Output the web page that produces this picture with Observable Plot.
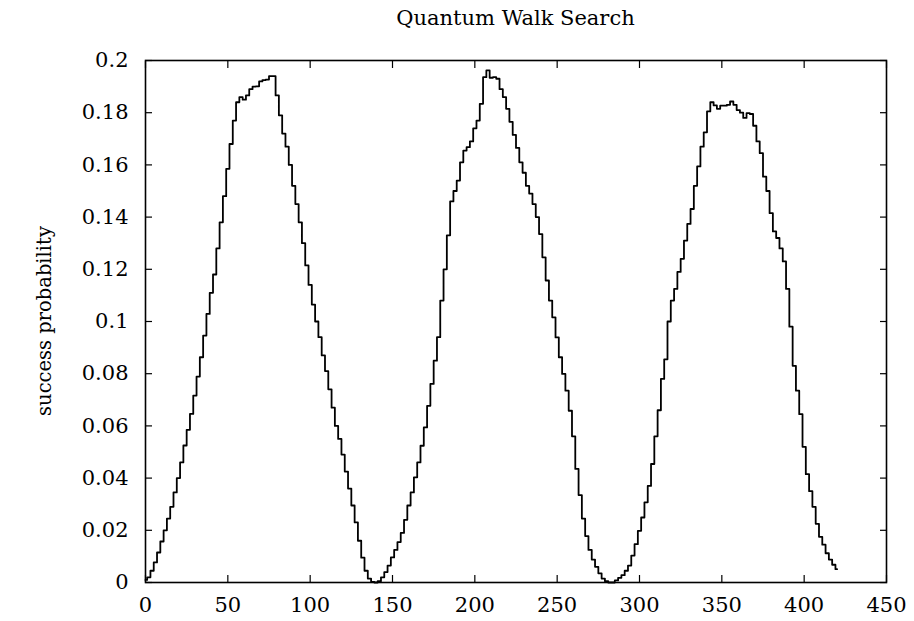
<!DOCTYPE html>
<html>
<head>
<meta charset="utf-8">
<script src="https://cdn.jsdelivr.net/npm/d3@7"></script>
<script src="https://cdn.jsdelivr.net/npm/@observablehq/plot@0.6"></script>
<style>
  html, body { margin: 0; padding: 0; background: #fff; }
  #title {
    height: 40px;
    box-sizing: border-box;
    padding: 8px 28px 0 145px;
    text-align: center;
    font: 21px "DejaVu Serif", serif;
    line-height: 21px;
    color: #000;
  }
</style>
</head>
<body>
<div id="title">Quantum Walk Search</div>
<div id="chart"></div>
<script>
// Success probability of the marked vertex after each pair of walk steps.
const steps = [
  0, 2, 4, 6, 8, 10, 12, 14, 16, 18, 20, 22, 24, 26, 28, 30, 32, 34, 36, 38,
  40, 42, 44, 46, 48, 50, 52, 54, 56, 58, 60, 62, 64, 66, 68, 70, 72, 74, 76, 78,
  80, 82, 84, 86, 88, 90, 92, 94, 96, 98, 100, 102, 104, 106, 108, 110, 112, 114, 116, 118,
  120, 122, 124, 126, 128, 130, 132, 134, 136, 138, 140, 142, 144, 146, 148, 150, 152, 154, 156, 158,
  160, 162, 164, 166, 168, 170, 172, 174, 176, 178, 180, 182, 184, 186, 188, 190, 192, 194, 196, 198,
  200, 202, 204, 206, 208, 210, 212, 214, 216, 218, 220, 222, 224, 226, 228, 230, 232, 234, 236, 238,
  240, 242, 244, 246, 248, 250, 252, 254, 256, 258, 260, 262, 264, 266, 268, 270, 272, 274, 276, 278,
  280, 282, 284, 286, 288, 290, 292, 294, 296, 298, 300, 302, 304, 306, 308, 310, 312, 314, 316, 318,
  320, 322, 324, 326, 328, 330, 332, 334, 336, 338, 340, 342, 344, 346, 348, 350, 352, 354, 356, 358,
  360, 362, 364, 366, 368, 370, 372, 374, 376, 378, 380, 382, 384, 386, 388, 390, 392, 394, 396, 398,
  400, 402, 404, 406, 408, 410, 412, 414, 416, 418, 420
];
const probability = [
  0.0010, 0.0020, 0.0045, 0.0077, 0.0115, 0.0157, 0.0200, 0.0245, 0.0290, 0.0345,
  0.0400, 0.0460, 0.0525, 0.0585, 0.0646, 0.0716, 0.0789, 0.0863, 0.0946, 0.1029,
  0.1110, 0.1180, 0.1280, 0.1380, 0.1480, 0.1585, 0.1680, 0.1770, 0.1840, 0.1860,
  0.1850, 0.1866, 0.1890, 0.1900, 0.1901, 0.1920, 0.1925, 0.1927, 0.1940, 0.1940,
  0.1866, 0.1790, 0.1720, 0.1670, 0.1600, 0.1520, 0.1450, 0.1380, 0.1300, 0.1215,
  0.1140, 0.1065, 0.1000, 0.0940, 0.0870, 0.0810, 0.0740, 0.0670, 0.0600, 0.0550,
  0.0490, 0.0425, 0.0360, 0.0295, 0.0230, 0.0160, 0.0095, 0.0045, 0.0015, 0.0002,
  0.0000, 0.0005, 0.0020, 0.0040, 0.0065, 0.0096, 0.0125, 0.0155, 0.0190, 0.0240,
  0.0295, 0.0345, 0.0403, 0.0460, 0.0524, 0.0594, 0.0677, 0.0761, 0.0850, 0.0940,
  0.1080, 0.1200, 0.1330, 0.1460, 0.1500, 0.1540, 0.1610, 0.1655, 0.1668, 0.1690,
  0.1740, 0.1770, 0.1834, 0.1936, 0.1962, 0.1934, 0.1936, 0.1930, 0.1890, 0.1860,
  0.1815, 0.1765, 0.1715, 0.1665, 0.1610, 0.1570, 0.1520, 0.1490, 0.1450, 0.1400,
  0.1335, 0.1246, 0.1157, 0.1080, 0.1016, 0.0939, 0.0863, 0.0799, 0.0735, 0.0658,
  0.0560, 0.0435, 0.0335, 0.0245, 0.0178, 0.0125, 0.0088, 0.0060, 0.0035, 0.0015,
  0.0005, 0.0000, 0.0000, 0.0008, 0.0018, 0.0028, 0.0045, 0.0065, 0.0103, 0.0147,
  0.0198, 0.0249, 0.0307, 0.0370, 0.0454, 0.0560, 0.0660, 0.0780, 0.0855, 0.1000,
  0.1080, 0.1125, 0.1190, 0.1240, 0.1310, 0.1374, 0.1431, 0.1520, 0.1594, 0.1670,
  0.1725, 0.1805, 0.1840, 0.1828, 0.1815, 0.1827, 0.1827, 0.1830, 0.1843, 0.1830,
  0.1810, 0.1800, 0.1780, 0.1798, 0.1795, 0.1750, 0.1690, 0.1645, 0.1555, 0.1500,
  0.1415, 0.1345, 0.1320, 0.1280, 0.1230, 0.1125, 0.0980, 0.0830, 0.0735, 0.0645,
  0.0520, 0.0415, 0.0350, 0.0290, 0.0225, 0.0175, 0.0145, 0.0112, 0.0088, 0.0068,
  0.0051
];

const xTicks = [0, 50, 100, 150, 200, 250, 300, 350, 400, 450];
const yTicks = [0, 0.02, 0.04, 0.06, 0.08, 0.1, 0.12, 0.14, 0.16, 0.18, 0.2];
const yTickLabels = ["0", "0.02", "0.04", "0.06", "0.08", "0.1", "0.12", "0.14", "0.16", "0.18", "0.2"];

const walk = steps.map((s, i) => ({step: s, p: probability[i]}));
const yLabelOf = new Map(yTicks.map((v, i) => [v, yTickLabels[i]]));

const font = "'DejaVu Serif', serif";

const chart = Plot.plot({
  width: 914,
  height: 581,
  marginLeft: 145,
  marginRight: 28,
  marginTop: 20,
  marginBottom: 39,
  style: {fontFamily: font, fontSize: "21px", color: "#000", background: "#fff"},
  x: {domain: [0, 450]},
  y: {domain: [0, 0.2]},
  marks: [
    // tick labels
    Plot.axisX(xTicks, {anchor: "bottom", tickSize: 0, tickPadding: 15, label: null, fontSize: 21}),
    Plot.axisY(yTicks, {anchor: "left", tickSize: 0, tickPadding: 17, label: null, fontSize: 21,
      tickFormat: (d) => yLabelOf.get(d)}),
    // inward tick marks on all four sides
    Plot.axisX(xTicks, {anchor: "bottom", tickSize: -7, text: null, label: null, strokeWidth: 1.2}),
    Plot.axisX(xTicks, {anchor: "top", tickSize: -7, text: null, label: null, strokeWidth: 1.2}),
    Plot.axisY(yTicks, {anchor: "left", tickSize: -7, text: null, label: null, strokeWidth: 1.2}),
    Plot.axisY(yTicks, {anchor: "right", tickSize: -7, text: null, label: null, strokeWidth: 1.2}),
    Plot.frame({stroke: "#000", strokeWidth: 1.6}),
    Plot.line(walk, {x: "step", y: "p", curve: "step", stroke: "#000", strokeWidth: 1.8})
  ]
});

// rotated y-axis title
const svg = d3.select(chart);
svg.append("text")
  .attr("transform", "translate(45,281) rotate(-90)")
  .attr("text-anchor", "middle")
  .attr("dominant-baseline", "middle")
  .style("font-family", font)
  .style("font-size", "19.5px")
  .attr("fill", "#000")
  .text("success probability");

document.getElementById("chart").appendChild(chart);
</script>
</body>
</html>
